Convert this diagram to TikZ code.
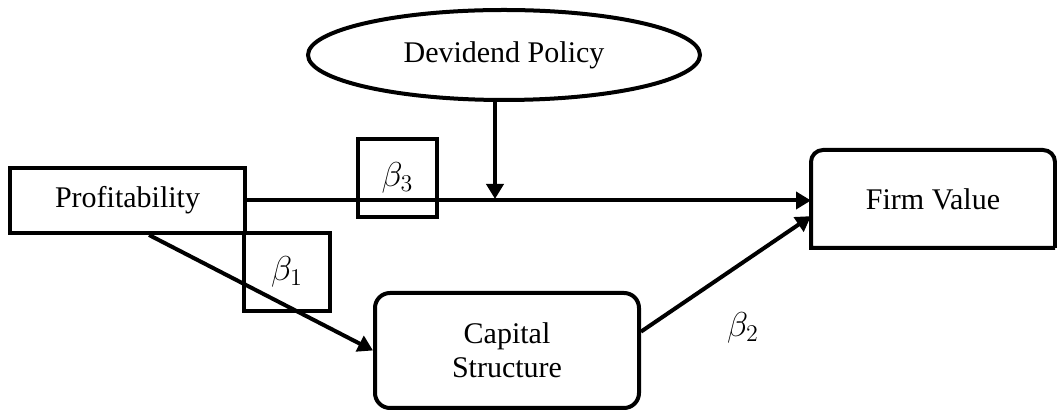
\documentclass[tikz,border=0pt]{standalone}
\usepackage{amsmath, amssymb}
\usepackage{fontspec}
\setmainfont{Liberation Serif}
\usetikzlibrary{arrows.meta,shapes.geometric}

\begin{document}
\begin{tikzpicture}[x=0.5pt,y=-0.5pt,
  lbl/.style={font=\fontsize{15}{17}\selectfont},
  coef/.style={font=\fontsize{18}{20}\selectfont},
  box/.style={lbl,draw,line width=2pt,inner sep=0pt,align=center},
  arr/.style={line width=2pt,-{Triangle[length=7.5pt,width=8.5pt]}}]
  \useasboundingbox (0,0) rectangle (1057,410);

  % Variables
  \node[box,ellipse,minimum width=196pt,minimum height=45pt] (div) at (504,55) {Devidend Policy};
  \node[box,minimum width=117.5pt,minimum height=32.5pt] (prof) at (127.5,200.5) {Profitability};
  \node[box,rounded corners=7.5pt,minimum width=132pt,minimum height=57.5pt] (cap) at (507,350.5) {Capital\\Structure};
  \node[box,draw=none,minimum width=120pt,minimum height=47pt] (firm) at (933,199) {Firm Value};
  \draw[line width=2pt] (firm.south east) -- (firm.south west) [rounded corners=6pt] -- (firm.north west) -- (firm.north east) [sharp corners] -- (firm.south east);

  % Paths
  \coordinate (join) at (495,199);
  \draw[arr] (prof.east) -- (prof.east -| firm.west);
  \draw[arr] (join |- div.south) -- (join);
  \draw[arr] (prof.-58) -- (cap.west);
  \draw[arr] (cap.8) -- (firm.188);

  % Coefficients
  \node[box,coef,minimum width=39.5pt,minimum height=39pt] (b3) at (397.5,178) {$\beta_3$};
  \node[box,coef,minimum width=43pt,minimum height=39pt] (b1) at (287,272) {$\beta_1$};
  \node[coef] (b2) at (743,328) {$\beta_2$};
\end{tikzpicture}
\end{document}
